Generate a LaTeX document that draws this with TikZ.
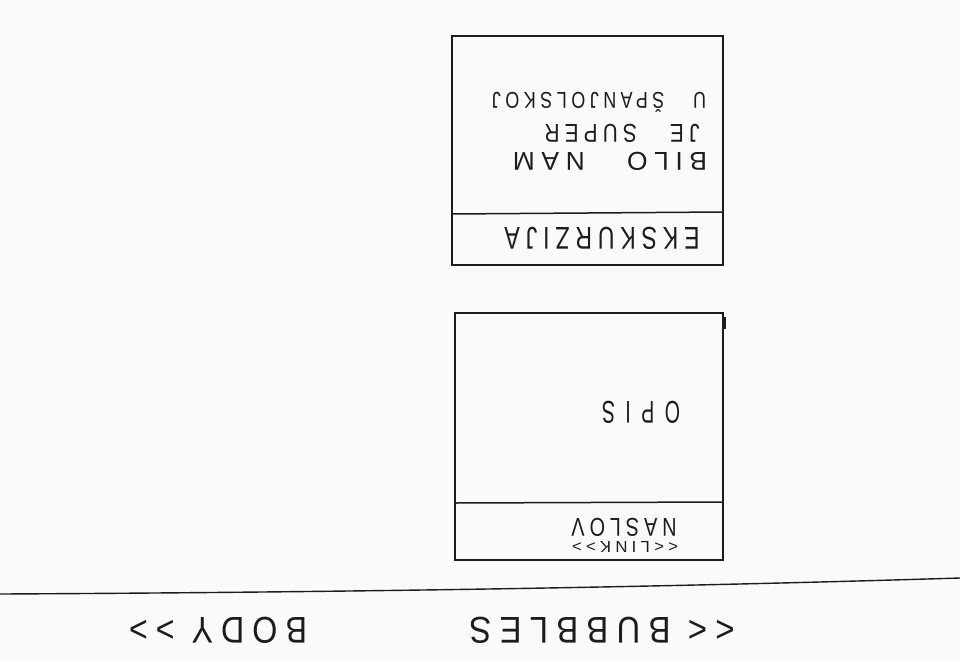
\documentclass[tikz,border=0pt]{standalone}
\usepackage{fontspec}
\setmainfont{Liberation Sans}
\newfontfamily\hand[LetterSpace=25]{Liberation Sans}
\usetikzlibrary{calc}
\definecolor{ink}{HTML}{1C1C1C}
\definecolor{paper}{HTML}{FAFAFA}
\begin{document}
\begin{tikzpicture}[x=1pt,y=-1pt,
  card/.style={draw=ink, line width=1.5pt, inner sep=0pt},
  rule/.style={draw=ink, line width=1.5pt},
  txt/.style={rotate=180, inner sep=0pt, text=ink, font=\hand}]
\fill[paper] (0,0) rectangle (960,661);
\useasboundingbox (0,0) rectangle (960,661);

% first card (upside down)
\node[card, minimum width=271pt, minimum height=229pt] (card1) at (587.5,150.5) {};
\coordinate (d1l) at (452,214);
\coordinate (d1r) at (723,212);
\draw[rule] (d1l) -- (d1r);
\node[txt] (hdr1) at (602,238) {\resizebox{195pt}{22pt}{EKSKURZIJA}};
\node[txt] (l1) at (610,161) {\resizebox{194pt}{18pt}{BILO\hspace{1.6em}NAM}};
\node[txt] (l2) at (622,133) {\resizebox{155pt}{18pt}{JE\hspace{1.6em}SUPER}};
\node[txt] (l3) at (599,102) {\resizebox{214pt}{20pt}{U\hspace{1.6em}ŠPANJOLSKOJ}};

% second card (upside down)
\node[card, minimum width=268pt, minimum height=247pt] (card2) at (589,436.5) {};
\coordinate (d2l) at (455,503);
\coordinate (d2r) at (723,502);
\draw[rule] (d2l) -- (d2r);
\coordinate (tickt) at (725,317);
\coordinate (tickb) at (725,329);
\draw[rule, line width=1.2pt] (tickt) -- (tickb);
\node[txt] (opis) at (641,412) {\resizebox{78pt}{22pt}{O P I S}};
\node[txt] (naslov) at (624,527) {\resizebox{105pt}{18pt}{NASLOV}};
\node[txt] (link) at (625,547) {\resizebox{106pt}{11pt}{<<LINK>>}};

% separator line and footer text
\coordinate (sepl) at (0,594);
\coordinate (sepr) at (960,578);
\draw[rule, line width=1.4pt] (sepl) .. controls (400,592) and (700,586) .. (sepr);
\node[txt] (bubbles) at (602,630) {\resizebox{265pt}{26pt}{<< BUBBLES}};
\node[txt] (body) at (218,630) {\resizebox{178pt}{26pt}{BODY >>}};
\end{tikzpicture}
\end{document}
